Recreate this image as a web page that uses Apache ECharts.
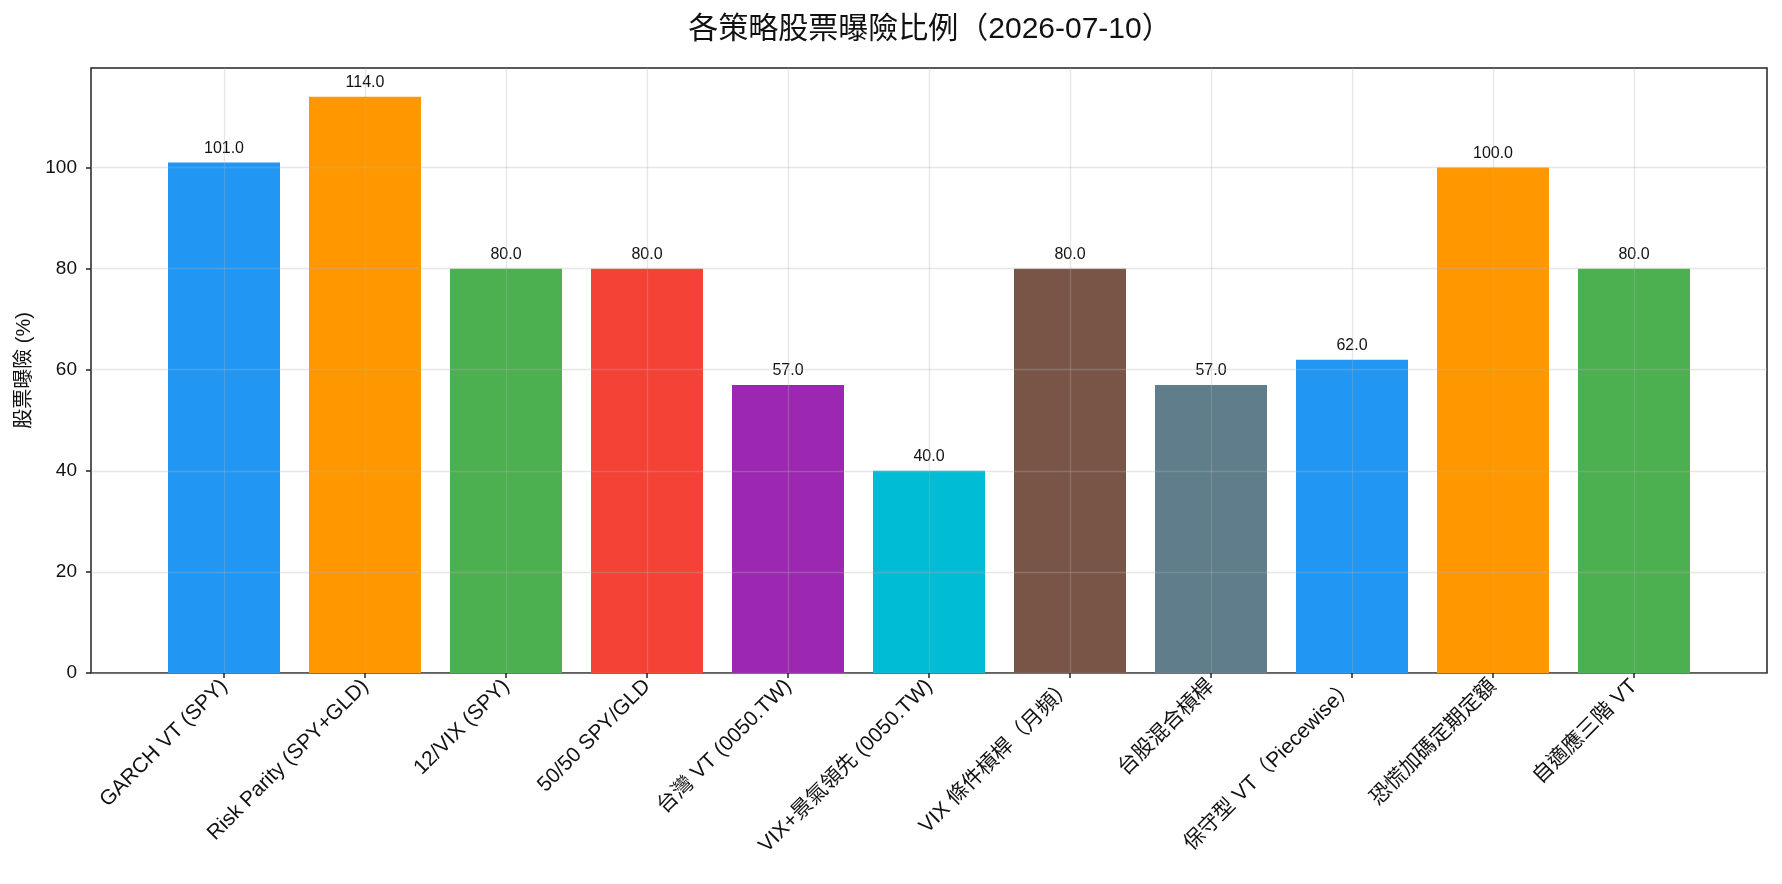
<!DOCTYPE html>
<html>
<head>
<meta charset="utf-8">
<script src="https://cdn.jsdelivr.net/npm/echarts@6/dist/echarts.min.js"></script>
<style>
html,body{margin:0;padding:0;background:#fff;}
#c{width:1782px;height:884px;}
</style>
</head>
<body>
<div id="c"></div>
<script>
const titleText = '各策略股票曝險比例（2026-07-10）';
const yAxisTitle = '股票曝險 (%)';
const categories = ['GARCH VT (SPY)', 'Risk Parity (SPY+GLD)', '12/VIX (SPY)', '50/50 SPY/GLD', '台灣 VT (0050.TW)', 'VIX+景氣領先 (0050.TW)', 'VIX 條件槓桿（月頻）', '台股混合槓桿', '保守型 VT（Piecewise）', '恐慌加碼定期定額', '自適應三階 VT'];
const values = [101, 114, 80, 80, 57, 40, 80, 57, 62, 100, 80];
const barColors = ['#2196F3', '#FF9800', '#4CAF50', '#F44336', '#9C27B0', '#00BCD4', '#795548', '#607D8B', '#2196F3', '#FF9800', '#4CAF50'];
const yTicks = [0, 20, 40, 60, 80, 100];

const FONT = "'Liberation Sans', 'Noto Sans CJK TC', sans-serif";
const gridColor = 'rgba(176,176,176,0.32)';
const yMax = 119.7;

const chart = echarts.init(document.getElementById('c'), null, {renderer: 'canvas'});
chart.setOption({
  animation: false,
  backgroundColor: '#fff',
  textStyle: {fontFamily: FONT},
  title: {
    text: titleText,
    left: 925, textAlign: 'center', top: 10,
    textStyle: {fontFamily: FONT, fontSize: 30, fontWeight: 'normal', color: '#111'}
  },
  grid: [
    {left: 91, right: 15, top: 68, bottom: 211, show: true, borderColor: '#222', borderWidth: 1.5, backgroundColor: 'transparent'},
    {left: 224, right: 148, top: 68, bottom: 211}
  ],
  xAxis: [
    {gridIndex: 0, type: 'value', min: 0, max: 1, show: false},
    {
      gridIndex: 1, type: 'category', data: categories, boundaryGap: false, z: 3,
      axisLine: {show: false},
      axisTick: {show: true, length: 5, interval: 0, lineStyle: {color: '#222', width: 1.5}},
      axisLabel: {interval: 0, rotate: 45, margin: 10, fontSize: 21, color: '#111', fontFamily: FONT},
      splitLine: {show: true, interval: 0, lineStyle: {color: gridColor, width: 1.3}}
    }
  ],
  yAxis: [
    {
      gridIndex: 0, type: 'value', min: 0, max: yMax, interval: 20, z: 3,
      name: yAxisTitle, nameLocation: 'middle', nameGap: 57, nameRotate: 90,
      nameTextStyle: {fontSize: 20, color: '#111', fontFamily: FONT},
      axisLine: {show: false},
      axisTick: {show: true, length: 5, customValues: yTicks, lineStyle: {color: '#222', width: 1.5}},
      axisLabel: {fontSize: 19, color: '#111', margin: 14, fontFamily: FONT, customValues: yTicks,
        formatter: v => (yTicks.indexOf(v) >= 0 ? String(v) : '')},
      splitLine: {show: true, lineStyle: {color: gridColor, width: 1.3}}
    },
    {gridIndex: 1, type: 'value', min: 0, max: yMax, show: false}
  ],
  series: [{
    type: 'bar',
    xAxisIndex: 1, yAxisIndex: 1,
    barWidth: 112,
    clip: false,
    data: values.map((v, i) => ({value: v, itemStyle: {color: barColors[i]}})),
    label: {
      show: true, position: 'top', distance: 6,
      fontSize: 16, color: '#111', fontFamily: FONT,
      formatter: p => Number(p.value).toFixed(1)
    }
  }]
});
</script>
</body>
</html>
